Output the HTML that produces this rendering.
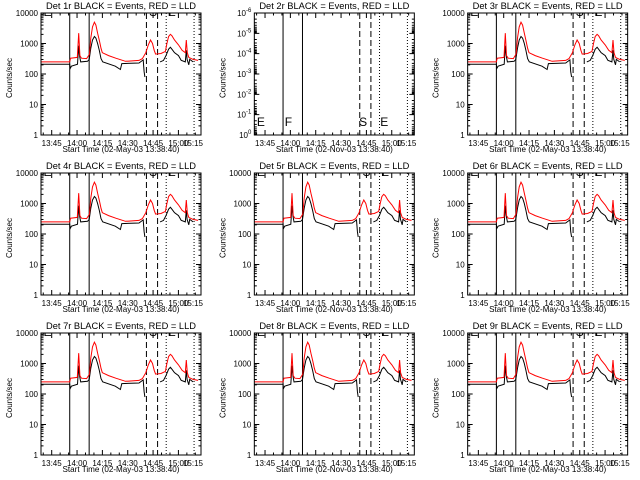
<!DOCTYPE html>
<html><head><meta charset="utf-8"><style>
html,body{margin:0;padding:0;background:#fff}
svg{display:block}
text{font-family:"Liberation Sans",sans-serif;fill:#000}
</style></head><body>
<svg id="c" width="640" height="480" viewBox="0 0 640 480">
<rect width="640" height="480" fill="#fff"/>
</svg>
<script>
// ---- data (minutes after 13:38:40) ----
const redT = [0,17,17.5,21.5,22.3,23,24,27,28.7,29.5,30.5,31.6,32.5,33.5,34.6,35.5,36.3,40,44.3,50,58,60,62,63.5,64.8,66,67,67.8,71,73.6,74.5,75.5,76.6,77.5,79,81.4,83.5,85.4,86,86.6,87.5,90,93];
const redV = [250,250,330,350,2200,400,330,320,450,1500,3500,5000,4000,2200,1200,700,500,400,330,260,280,320,500,900,1300,1000,600,450,470,550,1000,1700,2000,1800,1300,900,600,500,1300,500,350,300,280];
const blackT = [0,17,17.2,18,21.6,22.3,22.8,23.5,27.5,28.5,29.5,30.5,31.6,32.5,33.5,34.5,35.5,36.5,44,47,47.8,58,60.5,61,61.5,65,70.5,72.5,74,75.5,76.6,77.5,79,81.4,83,85.4,86,86.5,87.5,88,90];
const blackV = [210,210,150,180,210,850,400,250,260,300,700,1300,1700,1500,1000,600,320,250,180,140,220,230,290,120,80,null,250,280,400,650,750,650,500,400,280,250,600,300,200,300,250];
const tickLabels = ["13:45","14:00","14:15","14:30","14:45","15:00","15:15"];
const tickMinutes = [6.333,21.333,36.333,51.333,66.333,81.333,96.333];
const markerMinutes = [17,28.5,62.4,69,74.1,90.6];
const markerStyles = ["solid","solid","dash","dash","dot","dot"];
const detNames = ["1r","2r","3r","4r","5r","6r","7r","8r","9r"];
const dates = ["02-May-03","02-Nov-03","02-May-03","02-May-03","02-Nov-03","02-May-03","02-May-03","02-Nov-03","02-May-03"];

const NS="http://www.w3.org/2000/svg";
const svg=document.getElementById('c');
function mk(tag,attrs,parent){const e=document.createElementNS(NS,tag);for(const k in attrs)e.setAttribute(k,attrs[k]);(parent||svg).appendChild(e);return e;}
const TMAX=94.7;

for(let p=0;p<9;p++){
  const ox=(p%3)*213.33, oy=Math.floor(p/3)*160;
  const L=ox+41,R=ox+201,T=oy+13,B=oy+135;
  const empty=(p===1);
  const g=mk('g',{});
  
  
  const xs=t=>L+t*(R-L)/TMAX;
  const lo=empty?-6:0, hi=empty?0:4;
  const ys=v=>empty? T+(Math.log10(v)-lo)/(hi-lo)*(B-T) : B-(Math.log10(v)-lo)/(hi-lo)*(B-T);
  const tt=mk('text',{x:ox+121,y:oy+9,'text-anchor':'middle','font-size':9,textLength:150,lengthAdjust:'spacingAndGlyphs'},g);
  tt.textContent='Det '+detNames[p]+' BLACK = Events, RED = LLD';
  
  
  const cid='cl'+p;
  const cp=mk('clipPath',{id:cid},g);mk('rect',{x:L,y:T,width:R-L,height:B-T},cp);
  const inner=mk('g',{'clip-path':'url(#'+cid+')'},g);
  for(let i=0;i<markerMinutes.length;i++){
    const x=xs(markerMinutes[i]);
    const da=markerStyles[i]==='dash'?'6,3':markerStyles[i]==='dot'?'1,2':'none';
    const ln=mk('line',{x1:x,x2:x,y1:T,y2:B,stroke:'#000','stroke-width':1,'stroke-dasharray':da},inner);
    
    
  }
  const letters=empty?[["E",1.5],["F",18],["S",62],["E",74.5]]:[["E",1.5],["S",64],["E",75]];
  letters.forEach(([s,t])=>{
    const lt=mk('text',{x:xs(t),y:empty?B-9:T+3,'font-size':12},inner);
    lt.textContent=s;
    
    
  });
  if(!empty){
    const path=(TT,VV)=>{let d='',pen=false;for(let i=0;i<TT.length;i++){if(VV[i]==null){pen=false;continue;}d+=(pen?'L':'M')+xs(TT[i]).toFixed(1)+' '+ys(VV[i]).toFixed(1);pen=true;}return d;};
    const bl=mk('path',{d:path(blackT,blackV),fill:'none',stroke:'#000','stroke-width':1},inner);
    
    
    const rl=mk('path',{d:path(redT,redV),fill:'none',stroke:'#f00','stroke-width':1},inner);
    
    
  }
  const fr=mk('rect',{x:L,y:T,width:R-L,height:B-T,fill:'none',stroke:'#000','stroke-width':1},g);
  
  
  let tk='';
  for(let m=1.333;m<TMAX;m+=5){const x=xs(m);const len=(Math.round(m-6.333)%15===0)?5:2.5;tk+=`M${x} ${B}v${-len}M${x} ${T}v${len}`;}
  for(let d=lo;d<hi;d++){for(let k=1;k<10;k++){const v=Math.pow(10,d)*k;const y=ys(v);const len=k===1?5:2.5;tk+=`M${L} ${y}h${len}M${R} ${y}h${-len}`;}}
  mk('path',{d:tk,stroke:'#000','stroke-width':1,fill:'none'},g);
  tickLabels.forEach((s,i)=>{
    const x=Math.min(xs(tickMinutes[i]),R-8);
    const t=mk('text',{x:x,y:B+11,'text-anchor':'middle','font-size':8},g);
    t.textContent=s;
    
    
  });
  for(let d=lo;d<=hi;d++){
    const y=ys(Math.pow(10,d))+3;
    const t=mk('text',{x:L-3,y:y,'text-anchor':'end','font-size':8},g);
    if(empty){t.textContent='10';const s=mk('tspan',{'font-size':6,dy:-4},t);s.textContent=String(d);}
    else t.textContent=String(Math.pow(10,d));
    
    
  }
  const xl=mk('text',{x:ox+121,y:oy+152,'text-anchor':'middle','font-size':8.5,textLength:117,lengthAdjust:'spacingAndGlyphs'},g);
  xl.textContent='Start Time ('+dates[p]+' 13:38:40)';
  
  
  const yl=mk('text',{x:0,y:0,'text-anchor':'middle','font-size':8,transform:`translate(${ox+12},${oy+78}) rotate(-90)`},g);
  yl.textContent='Counts/sec';
  
  
}
</script>
</body></html>
